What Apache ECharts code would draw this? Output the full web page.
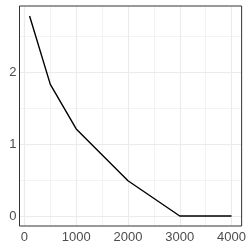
<!DOCTYPE html>
<html><head><meta charset="utf-8">
<script src="https://cdn.jsdelivr.net/npm/echarts@6/dist/echarts.min.js"></script>
<style>html,body{margin:0;padding:0;background:#fff}#c{width:249px;height:249px}</style>
</head><body><div id="c"></div>
<script>
const xValues = [100, 500, 1000, 2000, 3000, 4000];
const yValues = [2.78, 1.83, 1.21, 0.49, 0, 0];
const xBreaks = [0, 1000, 2000, 3000, 4000];
const xMinor = [500, 1500, 2500, 3500];
const yBreaks = [0, 1, 2];
const yMinor = [0.5, 1.5, 2.5];

const xMin = -95, xMax = 4195, yMin = -0.139, yMax = 2.919;

const chart = echarts.init(document.getElementById('c'), null, {renderer: 'canvas'});
function gl(axis, vals, w) {
  return vals.map(v => ({[axis]: v, lineStyle: {color: '#EBEBEB', width: w, type: 'solid'}}));
}
chart.setOption({
  animation: false,
  backgroundColor: '#fff',
  grid: {left: 19.5, right: 7, top: 6, bottom: 23, show: true, borderColor: '#333', borderWidth: 1, backgroundColor: 'transparent', z: 10},
  xAxis: {
    type: 'value', min: xMin, max: xMax,
    splitLine: {show: false}, axisLine: {show: false},
    axisTick: {show: true, length: 3, lineStyle: {color: '#333', width: 1}, customValues: xBreaks},
    axisLabel: {color: '#4D4D4D', fontSize: 13, fontFamily: 'Liberation Sans', margin: 5, customValues: xBreaks, formatter: v => String(v)}
  },
  yAxis: {
    type: 'value', min: yMin, max: yMax,
    splitLine: {show: false}, axisLine: {show: false},
    axisTick: {show: true, length: 3, lineStyle: {color: '#333', width: 1}, customValues: yBreaks},
    axisLabel: {color: '#4D4D4D', fontSize: 13, fontFamily: 'Liberation Sans', margin: 3, customValues: yBreaks, formatter: v => String(v)}
  },
  series: [
    {
      type: 'line', data: [], silent: true,
      markLine: {silent: true, symbol: ['none','none'], label: {show: false}, animation: false,
        data: [...gl('xAxis', xMinor, 0.6), ...gl('yAxis', yMinor, 0.6), ...gl('xAxis', xBreaks, 1.1), ...gl('yAxis', yBreaks, 1.1)]}
    },
    {
      type: 'line', data: xValues.map((x, i) => [x, yValues[i]]),
      symbol: 'none', lineStyle: {color: '#000', width: 1.4}, z: 5
    }
  ]
});
</script></body></html>
